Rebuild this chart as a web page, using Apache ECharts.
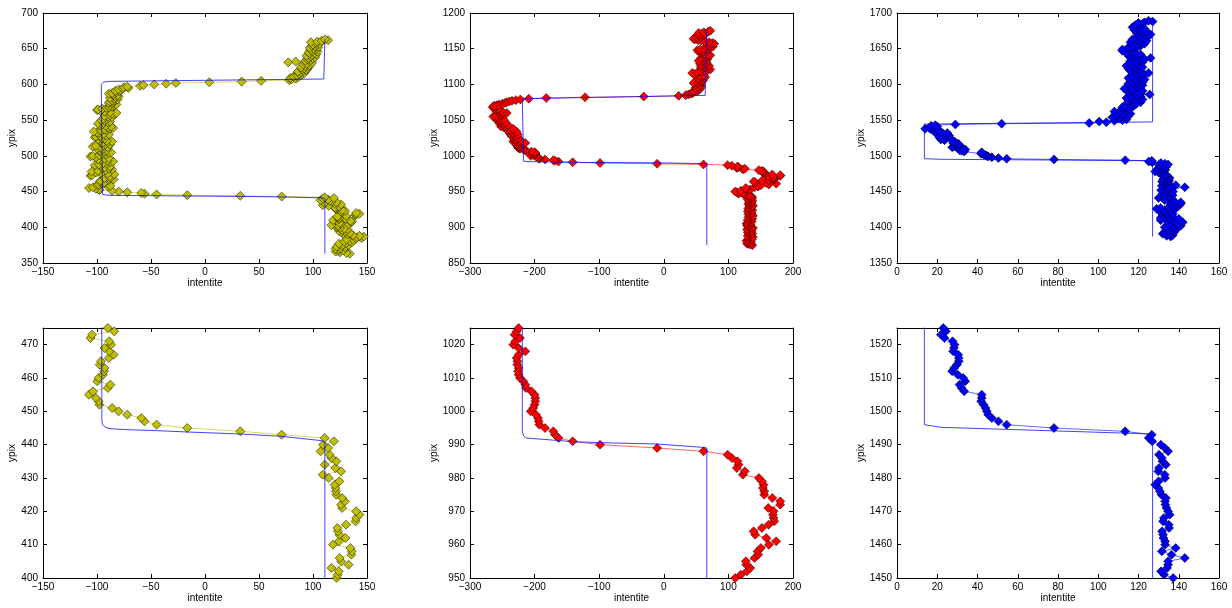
<!DOCTYPE html>
<html><head><meta charset="utf-8">
<script src="https://cdn.jsdelivr.net/npm/echarts@6/dist/echarts.min.js"></script>
<style>html,body{margin:0;padding:0;background:#fff}#c{width:1232px;height:608px}</style>
</head><body><div id="c"></div>
<script>
// ---- Series 1 (yellow): ypix from 363, one intentite value per pixel row
const s1Start = 363;
const s1X = [
134,131,125,121,123,128,124,121,126,130,122,127,133,128,124,131,136,129,134,138,131,140,145,141,147,143,137,132,128,134,126,130,124,127,132,129,125,
122,122.8,123.8,117,133,126,124.7,135.5,136,134.6,118.5,124,130,124.4,123,122.5,130.6,139.5,140,143,140,126.9,126,129.6,126.9,121.6,121.3,121,120,124.4,
114.5,109,126,120.7,110.8,121.6,117,115.4,107,114,109.3,119.4,110.8,71,32.7,-16.4,-44.8,-56,-59,-72,-80,-86,-97.8,-98.5,-101,-107.4,-103.7,-90,-87.6,
-99.7,-98.5,-94.4,-93.5,-93,-97.5,-96.3,-89,-84.6,-88.6,-93,-87,-88.6,-106,-104.6,-84,
-90,-96,-101,-105,-99,-92,-86,-89,-95,-93,-88,-97,-102,-98,-91,-94,-88,-85,-90,-96,-99,-93,-89,-101,-106,
-104,-98,-92,-95,-89,-87,-93,-97,-91,-95,-100,-96,-90,-104,-101,-94,-88,-92,-95,-90,-86,-91,-97,-99,-93,
-96,-102,-101,-97,-92,-89,-94,-98,-100,-103,-96,-91,-93,-88,-85,-90,-87,-92,-97,-95,-99,-94,-90,-88,-93,
-96,-91,-94,-89,-86,-90,-93,-88,-84,-86,-82,-88,-93,-97,-100,-99,-95,-91,-89,-86,-88,-84,-82,-86,-89,
-85,-88,-84,-86,-81,-84,-88,-83,-80,-84,-81,-85,-89,-86,-82,-79,-83,-78,-80,-76,-71,-75,
-72,-60,-57,-47,-36,-27,4,34,52,78,80,
84,79,86,82,88,85,90,87,92,89,86,91,94,90,95,92,89,96,93,97,91,94,99,77,84,93,98,95,100,96,102,98,94,99,103,97,101,96,104,100,98,103,101,97,105,102,99,104,100,106,103,98,104,108,114,111
];
// ---- Series 2 (red): ypix from 875
const s2Start = 875;
const s2X = [
137,133,129,131,135,130,128,132,136,131,134,138,133,130,135,132,137,134,130,133,136,131,129,134,138,
135,132,129,131,134,128,130,133,136,132,130,134,137,133,131,135,138,134,131,133,136,132,130,134,137,
133,131,135,132,136,138,134,131,133,136,132,134,137,133,130,134,137,133,136,134,131,124,116,122,113,
110.5,119.3,128.6,133.8,127.6,127,140.5,146.2,145.1,150.3,162.7,174,158.6,141.5,139,151.9,162.2,171,169.9,168.9,169.9,161.7,180.3,180.3,167.9,
155.5,155.5,153.4,154.4,151.9,147.2,122.4,125.5,113,115.7,114,105.4,98.7,61.5,-10.3,-98.7,-141,-163,-168.4,-171,-183.9,-192.7,-193.7,-194.7,-197.8,
-206,-202,-200,-198.9,-198.9,-200,-205,-213.3,-214.4,-217.5,-222.6,-224.7,-225.7,-224.7,-226.8,-226.8,-227.8,-224.7,-214.4,-224.7,-233,-229.9,-222.6,-231,-227.8,-224.7,
-232,-228,-236,-231,-226,-234,-239,-235,-228,-237,-242,-238,-233,-245,-248,-252,-246,-241,-249,-254,-250,-245,-252,-257,-253,
-248,-256,-261,-258,-264,-259,-253,-247,-251,-243,-249,-255,-252,-258,-261,-256,-262,-265,-260,-263,-259,-255,-250,-246,-243,
-239,-235,-229,-222,-209,
-182,-122,-31,23,34,38,42,45,
45,50,47,54,51,56,49,53,58,55,50,57,52,46,54,59,56,61,57,53,60,64,58,55,62,50,46,44,52,58,
63,68,72,66,61,64,57,70,65,60,56,62,66,59,54,61,67,63,58,64,69,66,72,68,63,59,55,60,57,52,
56,62,67,73,76,71,68,74,78,75,70,64,58,53,48,46,52,57,50,55,60,64,58,54,62,69,72
];
// ---- Series 3 (blue): ypix from 1387
const s3Start = 1387;
const s3X = [
136,134,137,135,132,133,136,138,134,137,135,139,136,133,138,141,137,135,139,140,142,138,134,131,136,140,131,134,137,135,
132,134,137,134,131,133,136,133,138,129,131,135,137,140,136,138,141,137,141,138,135,133,136,134,130,133,136,134,137,135,132,134,136,
137.2,132.7,131.2,134.2,134.7,134.7,143,136.4,131.6,138.5,133.2,133.2,132.4,132.2,131.7,135.2,135,132.2,132.6,135.5,134.7,133.9,133.4,133.2,133.6,
131.4,130.6,129.9,128.3,130,133.2,133,129.8,130.2,133.6,131.9,131.6,130.2,134.7,133.1,131.1,126.8,125.1,126.6,113.4,78,54.5,50.4,47.1,45.3,
44.6,44,43,41.8,42.1,42.1,33.4,32.1,31.1,33.9,32.9,30.2,27.4,28.4,29.8,30.7,30.7,30.4,27.9,28.3,28.6,27.6,23.6,21.8,24.3,
23,21,24,26,22,20,23,25,22,19,21,18,17,14,16,18,20,17,19,29,52,
95.5,104,100.5,108,112,
114,110,113,107,111,115,109,112,116,110,113,108,111,114,112,116,114,112,115,113,118,116,119,117,121,118,115,119,122,117,
114,118,121,116,119,125.6,121,118,115,119,122,117,114,113,117,120,116,119,122,118,115,118,122,119,116,120,123,118,115,119,
121,117,120,123,119,125,121,118,116,120,117,115,119,122,118,114,117,120,116,119,122,118,116,120,123,121,126,122,117,115,
119,121,117,114,118,116,112,115,112,116,119,115,118,121,117,120,123,119,116,121,124,120,117,121,123,119,122,125,121,126,
123,119,122,124,120,118,121,123,119,117,120,118,121,119,122,120,123,127,125
];
// ---- Model step profiles (blue lines): intentite / ypix
const m1X = [111,111,108,71,33,-16,-44,-72,-88,-92,-95,-95.5,-96,-95,-93.8,-87.7,110,111,111];
const m1Y = [363,440.8,441.2,442.5,443.2,443.8,444.2,444.5,444.8,445.2,446,447.5,600,602.5,603.4,604.3,607.6,608,663.5];
const m2X = [66.6,66.6,60,-10,-99,-141,-213,-217,-219,-219,-216.5,64,66.6,66.6];
const m2Y = [875,989,989.2,990.2,990.6,990.9,992,992.6,994,1080,1082,1084.7,1085,1176];
const m3X = [127,127,75,22,13.6,13.6,127,127];
const m3Y = [1387,1493.2,1494.2,1495.2,1496,1544.5,1547.5,1689];

// ---- Axis ranges [min,max,interval]
const xRanges = [[-150,150,50],[-300,200,100],[0,160,20],[-150,150,50],[-300,200,100],[0,160,20]];
const yRanges = [[350,700,50],[850,1200,50],[1350,1700,50],[400,475,10],[950,1025,10],[1450,1525,10]];
const xName = 'intentite', yName = 'ypix';

const colors = ['#bfbf00','#ff0000','#0000ff'];
const dataSets = [[s1Start,s1X],[s2Start,s2X],[s3Start,s3X]];
const models = [[m1X,m1Y],[m2X,m2Y],[m3X,m3Y]];

const lefts = [43,470,897], widths = [324,323,322], tops = [13,328];
const yGaps = [19,25,23,20,27,26];
const FONT = 'Liberation Sans';
function fmt(v){ return v < 0 ? '\u2212' + (-v) : String(v); }

const grid = [], xAxis = [], yAxis = [], series = [];
for (let i = 0; i < 6; i++) {
  const col = i % 3, row = Math.floor(i / 3);
  grid.push({left: lefts[col], top: tops[row], width: widths[col], height: 250, containLabel: false});
  const xr = xRanges[i], yr = yRanges[i];
  const line = {show: true, onZero: false, lineStyle: {color: '#000', width: 1}};
  const tick = {show: true, inside: true, length: 4, lineStyle: {color: '#000', width: 1}};
  const lab = {color: '#000', fontSize: 10, fontFamily: FONT};
  xAxis.push({gridIndex: i, type: 'value', min: xr[0], max: xr[1], interval: xr[2], position: 'bottom',
    axisLine: line, axisTick: tick, splitLine: {show: false},
    axisLabel: Object.assign({margin: 4, formatter: fmt}, lab),
    name: xName, nameLocation: 'middle', nameGap: 15, nameTextStyle: {color: '#000', fontSize: 10, fontFamily: FONT}});
  xAxis.push({gridIndex: i, type: 'value', min: xr[0], max: xr[1], interval: xr[2], position: 'top',
    axisLine: line, axisTick: tick, splitLine: {show: false}, axisLabel: {show: false}});
  yAxis.push({gridIndex: i, type: 'value', min: yr[0], max: yr[1], interval: yr[2], position: 'left',
    axisLine: line, axisTick: tick, splitLine: {show: false},
    axisLabel: Object.assign({margin: 5, formatter: v => (v % yr[2] === 0 ? String(v) : '')}, lab),
    name: yName, nameLocation: 'middle', nameGap: yGaps[i], nameTextStyle: {color: '#000', fontSize: 10, fontFamily: FONT}});
  yAxis.push({gridIndex: i, type: 'value', min: yr[0], max: yr[1], interval: yr[2], position: 'right',
    axisLine: line, axisTick: tick, splitLine: {show: false}, axisLabel: {show: false}});

  const [start, xs] = dataSets[col];
  const pts = xs.map((x, k) => [x, start + k]);
  series.push({type: 'line', xAxisIndex: 2*i, yAxisIndex: 2*i, data: pts, clip: true, silent: true,
    symbol: 'diamond', symbolSize: 9, showSymbol: true, z: 2,
    itemStyle: {color: colors[col], borderColor: '#000', borderWidth: 0.5},
    lineStyle: {color: colors[col], width: 1, opacity: 0.6}});
  const [mx, my] = models[col];
  series.push({type: 'line', xAxisIndex: 2*i, yAxisIndex: 2*i, data: mx.map((x, k) => [x, my[k]]), clip: true, silent: true,
    symbol: 'none', z: 3, lineStyle: {color: '#0000ff', width: 1, opacity: 0.75}});
}

const chart = echarts.init(document.getElementById('c'), null, {renderer: 'canvas'});
chart.setOption({animation: false, backgroundColor: '#fff', grid, xAxis, yAxis, series});
</script></body></html>
